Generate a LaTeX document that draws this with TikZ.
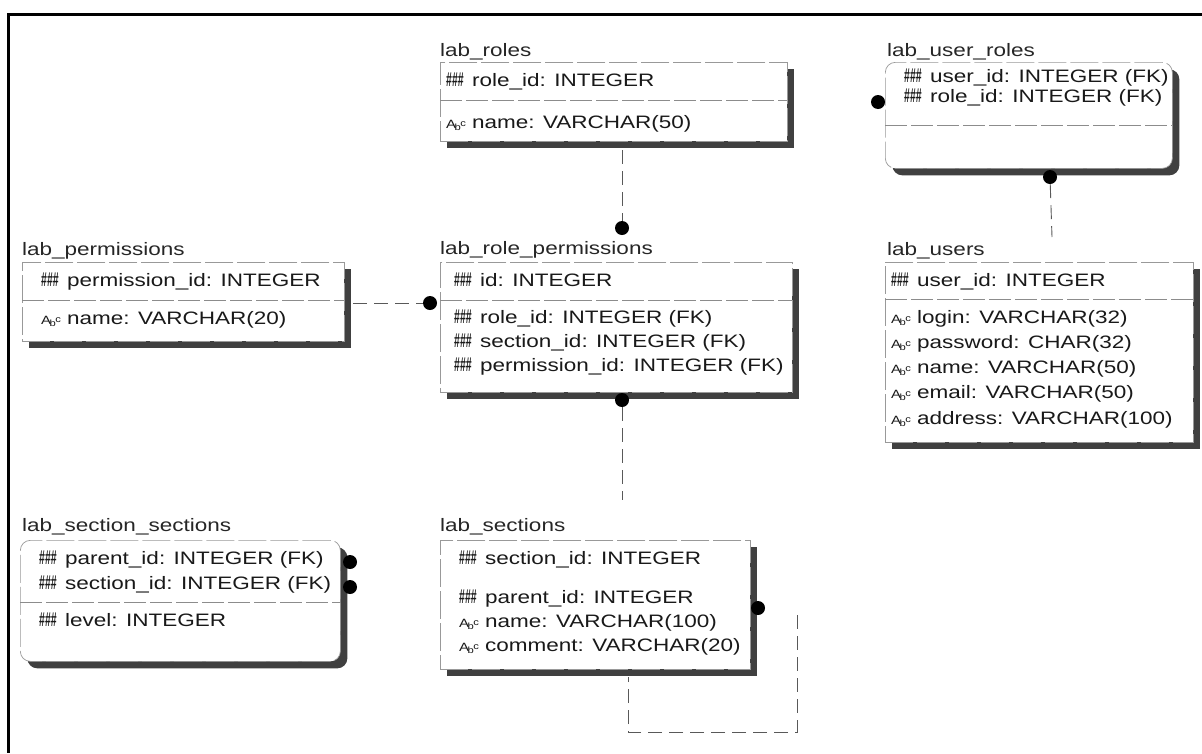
\documentclass[tikz,border=0pt]{standalone}
\usepackage{fontspec}
\setmainfont[FakeStretch=1.25]{Liberation Sans}
\usetikzlibrary{shadows}

\newcommand{\keyic}{\makebox[26pt][l]{\raisebox{-0.5pt}{\fontsize{21}{21}\selectfont\bfseries\scalebox{0.4}[0.95]{\#\#\#}}}}
\newcommand{\txtic}{\makebox[26pt][l]{\fontsize{12}{12}\selectfont A\kern-1.5pt\raisebox{-2pt}{\fontsize{9}{9}\selectfont b}\kern-0.5pt\raisebox{2pt}{\fontsize{9}{9}\selectfont c}}}

\tikzset{
  tbl/.style={draw=black!40, line width=0.7pt, dash pattern=on 28pt off 4pt, fill=white,
    anchor=north west, inner sep=0pt,
    drop shadow={shadow xshift=7pt, shadow yshift=-7pt, fill=black!75, opacity=1}},
  deptbl/.style={tbl, rounded corners=10pt},
  sepline/.style={draw=black!45, line width=0.7pt, dash pattern=on 22pt off 4pt},
  ttl/.style={anchor=base west, inner sep=0pt, text=black!85},
  fld/.style={anchor=base west, inner sep=0pt, text=black!90},
  fkdot/.style={circle, fill=black, inner sep=0pt, minimum size=14pt},
  fk/.style={draw=black!65, line width=0.9pt, dash pattern=on 14pt off 7pt}
}

\begin{document}
\begin{tikzpicture}[x=1pt, y=-1pt, font=\fontsize{18}{22}\selectfont]
\useasboundingbox (0,0) rectangle (1202,753);
\fill[white] (0,0) rectangle (1202,753);

% frame of the page
\draw[line width=2.6pt] (1202,14.5) -- (8.5,14.5) -- (8.5,753);

% lab_roles
\node[ttl] (roles-t) at (440,56) {lab\_roles};
\node[tbl, minimum width=347pt, minimum height=79pt] (roles) at (440,62) {};
\draw[sepline] (440,100) -- (787,100);
\node[fld] (roles-1) at (446,86) {\keyic role\_id: INTEGER};
\node[fld] (roles-2) at (446,128) {\txtic name: VARCHAR(50)};

% lab_user_roles
\node[ttl] (uroles-t) at (887,56) {lab\_user\_roles};
\node[deptbl, minimum width=287pt, minimum height=106pt] (uroles) at (885,62) {};
\draw[sepline] (885,125) -- (1172,125);
\node[fld] (uroles-1) at (904,82) {\keyic user\_id: INTEGER (FK)};
\node[fld] (uroles-2) at (904,102) {\keyic role\_id: INTEGER (FK)};

% lab_permissions
\node[ttl] (perms-t) at (22,255) {lab\_permissions};
\node[tbl, minimum width=322pt, minimum height=79pt] (perms) at (22,262) {};
\draw[sepline] (22,300) -- (344,300);
\node[fld] (perms-1) at (41,286) {\keyic permission\_id: INTEGER};
\node[fld] (perms-2) at (41,324) {\txtic name: VARCHAR(20)};

% lab_role_permissions
\node[ttl] (rperms-t) at (440,254) {lab\_role\_permissions};
\node[tbl, minimum width=352pt, minimum height=130pt] (rperms) at (440,262) {};
\draw[sepline] (440,300) -- (792,300);
\node[fld] (rperms-1) at (454,286) {\keyic id: INTEGER};
\node[fld] (rperms-2) at (454,323) {\keyic role\_id: INTEGER (FK)};
\node[fld] (rperms-3) at (454,347) {\keyic section\_id: INTEGER (FK)};
\node[fld] (rperms-4) at (454,371) {\keyic permission\_id: INTEGER (FK)};

% lab_users
\node[ttl] (users-t) at (887,255) {lab\_users};
\node[tbl, minimum width=308pt, minimum height=180pt] (users) at (885,262) {};
\draw[sepline] (885,299) -- (1193,299);
\node[fld] (users-1) at (891,286) {\keyic user\_id: INTEGER};
\node[fld] (users-2) at (891,323) {\txtic login: VARCHAR(32)};
\node[fld] (users-3) at (891,348) {\txtic password: CHAR(32)};
\node[fld] (users-4) at (891,373) {\txtic name: VARCHAR(50)};
\node[fld] (users-5) at (891,398) {\txtic email: VARCHAR(50)};
\node[fld] (users-6) at (891,424) {\txtic address: VARCHAR(100)};

% lab_section_sections
\node[ttl] (secsec-t) at (22,531) {lab\_section\_sections};
\node[deptbl, minimum width=320pt, minimum height=121pt] (secsec) at (20,540) {};
\draw[sepline] (20,602) -- (340,602);
\node[fld] (secsec-1) at (39,564) {\keyic parent\_id: INTEGER (FK)};
\node[fld] (secsec-2) at (39,589) {\keyic section\_id: INTEGER (FK)};
\node[fld] (secsec-3) at (39,626) {\keyic level: INTEGER};

% lab_sections
\node[ttl] (secs-t) at (440,531) {lab\_sections};
\node[tbl, minimum width=310pt, minimum height=129pt] (secs) at (440,540) {};
\node[fld] (secs-1) at (459,564) {\keyic section\_id: INTEGER};
\node[fld] (secs-2) at (459,603) {\keyic parent\_id: INTEGER};
\node[fld] (secs-3) at (459,627) {\txtic name: VARCHAR(100)};
\node[fld] (secs-4) at (459,651) {\txtic comment: VARCHAR(20)};

% relationship ends
\node[fkdot] (rptop) at (622,228) {};
\node[fkdot] (rpleft) at (430,303) {};
\node[fkdot] (rpbot) at (622,400) {};
\node[fkdot] (urleft) at (878,102) {};
\node[fkdot] (urbot) at (1050,177) {};
\node[fkdot] (ssdot1) at (350,562) {};
\node[fkdot] (ssdot2) at (350,587) {};
\node[fkdot] (secdot) at (758,608) {};

\coordinate (rolesout) at (622,150);
\coordinate (permsout) at (353,303);
\coordinate (secsin) at (622,500);
\coordinate (usersin) at (1052,237);
\coordinate (loopa) at (797,615);
\coordinate (loopb) at (628,677);

% connectors
\draw[fk] (rolesout) -- (rptop);
\draw[fk] (permsout) -- (rpleft);
\draw[fk] (rpbot) -- (secsin);
\draw[fk] (urbot) -- (usersin);
\draw[fk] (loopa) -- ++(0,117) -| (loopb);
\end{tikzpicture}
\end{document}
